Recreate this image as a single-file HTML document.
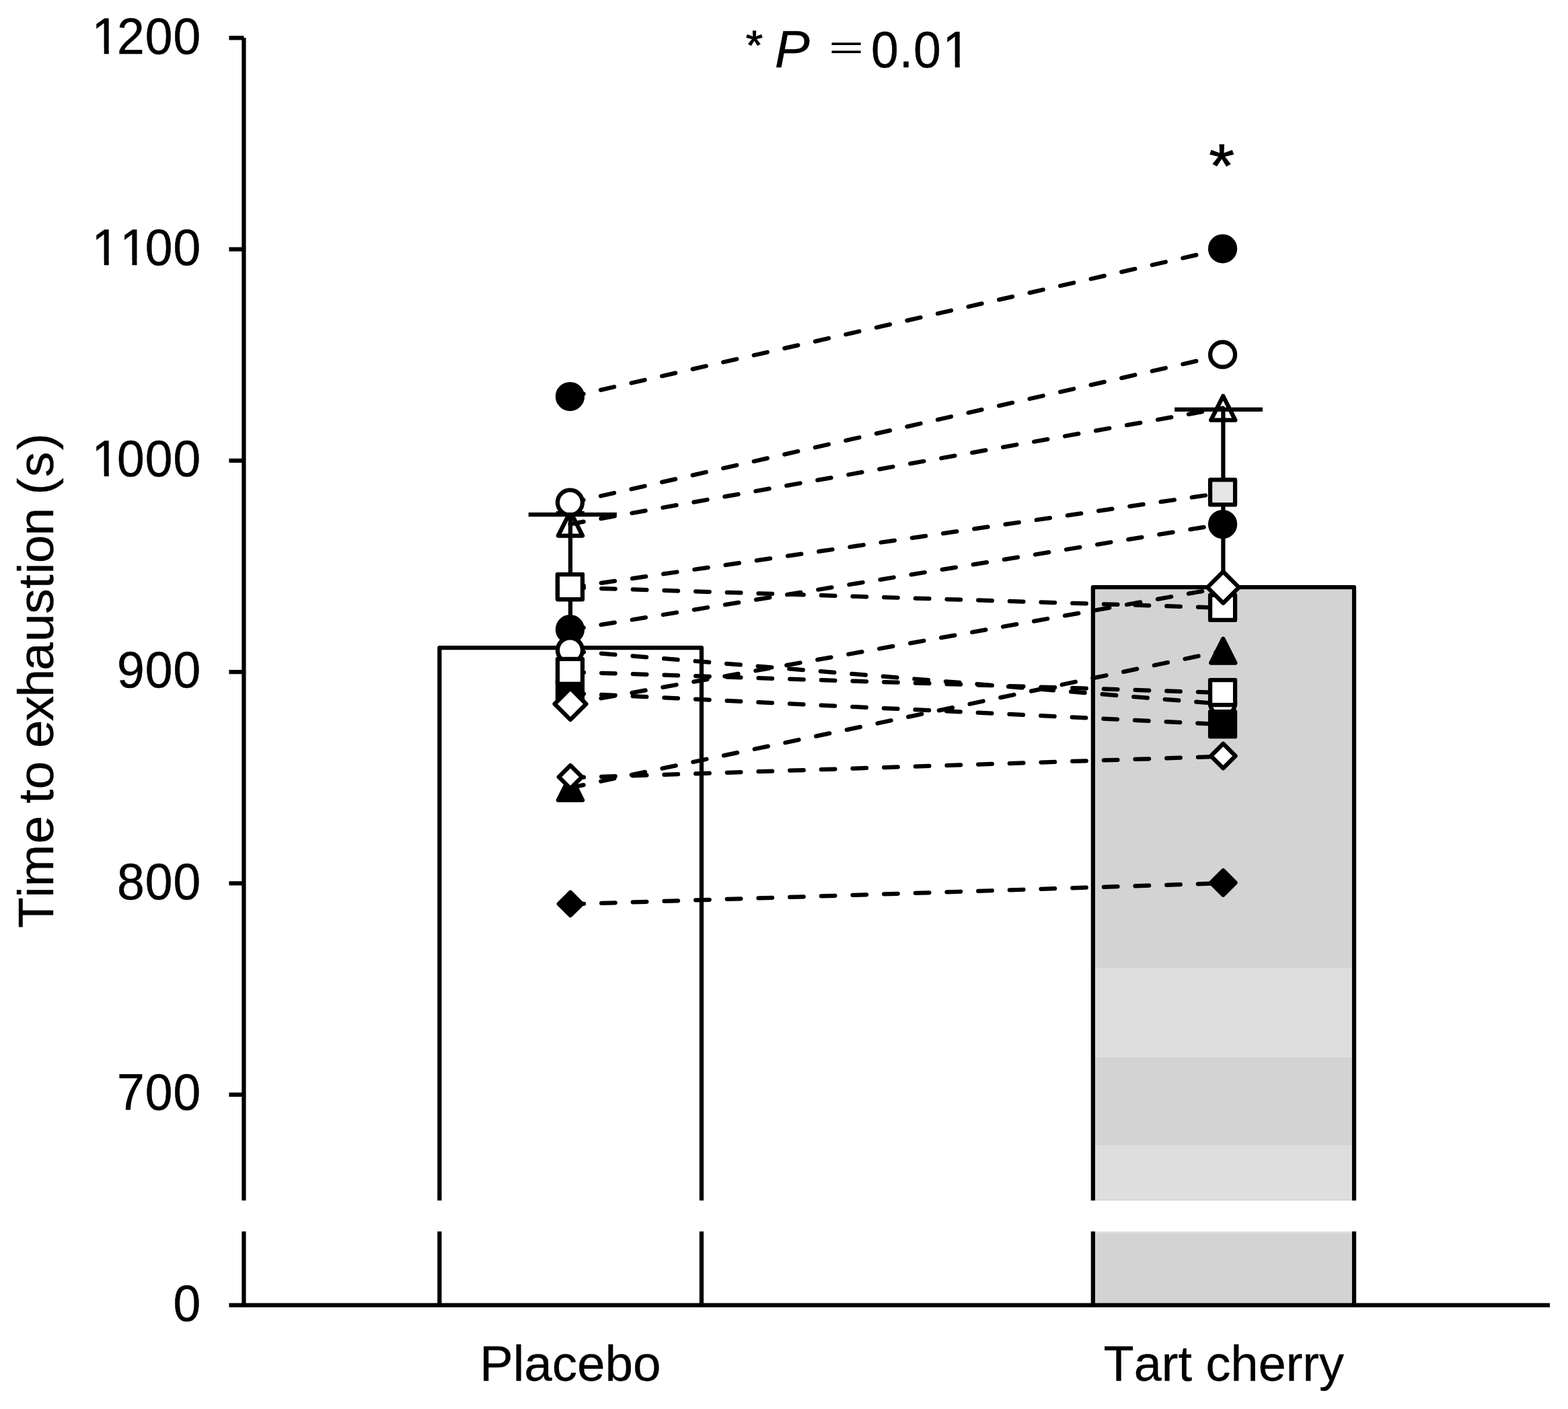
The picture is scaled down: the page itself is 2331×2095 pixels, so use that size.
<!DOCTYPE html>
<html lang="en">
<head>
<meta charset="utf-8">
<title>Time to exhaustion: Placebo vs Tart cherry</title>
<style>
html,body{margin:0;padding:0;background:#fff;}
body{width:2331px;height:2095px;overflow:hidden;}
svg{display:block;}
text{font-family:'Liberation Sans', Arial, Helvetica, sans-serif;font-size:75px;fill:#000;font-kerning:none;stroke:#000;stroke-width:0.35px;stroke-linejoin:round;}
.ln{stroke:#000;stroke-width:6.25;fill:none;stroke-linecap:butt;}
.dash{stroke:#000;stroke-width:6.25;fill:none;stroke-linecap:round;stroke-dasharray:20.6 26.1;}
.mk{stroke:#000;stroke-width:6.25;stroke-linejoin:round;}
.num text{stroke-width:0.5px;}
</style>
</head>
<body>
<svg width="2331" height="2095" viewBox="0 0 2331 2095">
<rect x="0" y="0" width="2331" height="2095" fill="#fff"/>
<g id="bars">
<rect x="1625.2" y="873.5" width="387.5" height="566.1" fill="#d3d3d3"/>
<rect x="1625.2" y="1439.6" width="387.5" height="131.9" fill="#dedede"/>
<rect x="1625.2" y="1571.5" width="387.5" height="131.4" fill="#d3d3d3"/>
<rect x="1625.2" y="1702.9" width="387.5" height="82.1" fill="#dedede"/>
<rect x="1625.2" y="1784.0" width="387.5" height="1.0" fill="#d0d0d0"/>
<rect x="1625.2" y="1831.1" width="387.5" height="3.0" fill="#dedede"/>
<rect x="1625.2" y="1834.1" width="387.5" height="106.4" fill="#d3d3d3"/>
<path fill="none" stroke="#ededed" stroke-width="0.8" d="M1628.7 876.6H2009.2V1785.0M2009.2 1831.1V1937.0"/>
<path class="ln" stroke-width="7" stroke-linejoin="round" d="M653.40 1785.00V963.20H1042.90V1785.00"/>
<path class="ln" stroke-width="7" d="M653.40 1831.10V1940.50M1042.90 1831.10V1940.50"/>
<path class="ln" stroke-width="7" stroke-linejoin="round" d="M1624.90 1785.00V873.20H2013.00V1785.00"/>
<path class="ln" stroke-width="7" d="M1624.90 1831.10V1940.50M2013.00 1831.10V1940.50"/>
</g>
<g id="axes">
<path class="ln" stroke-width="6.3" d="M362.5 56.3V1785.0M362.5 1831.1V1940.5"/>
<path class="ln" stroke-width="7.1" d="M340.5 1940.5H2304.0"/>
<path class="ln" stroke-width="7" d="M340.5 56.3H362.5M340.5 370.5H362.5M340.5 684.8H362.5M340.5 999.0H362.5M340.5 1313.3H362.5M340.5 1627.5H362.5"/>
</g>
<g id="errorbars">
<path class="ln" d="M847.9 765.0V963.5"/>
<path class="ln" d="M1818.4 608.9V873.5"/>
<path class="ln" d="M826.9 763.0H868.7"/>
</g>
<g id="pairs">
<line class="dash" x1="847.4" y1="590.16" x2="1818.0" y2="370.19"/>
<line class="dash" x1="847.4" y1="747.88" x2="1818.0" y2="527.91"/>
<line class="dash" x1="847.4" y1="779.30" x2="1818.0" y2="606.77"/>
<line class="dash" x1="847.4" y1="873.57" x2="1818.0" y2="732.77"/>
<line class="dash" x1="847.4" y1="873.57" x2="1818.0" y2="903.80"/>
<line class="dash" x1="847.4" y1="936.42" x2="1818.0" y2="779.30"/>
<line class="dash" x1="847.4" y1="967.85" x2="1818.0" y2="1046.81"/>
<line class="dash" x1="847.4" y1="999.27" x2="1818.0" y2="1030.09"/>
<line class="dash" x1="847.4" y1="1030.69" x2="1818.0" y2="1077.13"/>
<line class="dash" x1="847.4" y1="1046.41" x2="1818.0" y2="873.57"/>
<line class="dash" x1="847.4" y1="1156.39" x2="1818.0" y2="1124.67"/>
<line class="dash" x1="847.4" y1="1171.30" x2="1818.0" y2="967.85"/>
<line class="dash" x1="847.4" y1="1344.43" x2="1818.0" y2="1313.21"/>
</g>
<g id="markers">
<path class="mk" fill="none" d="M847.90 760.60L866.00 796.50L829.80 796.50Z"/>
<circle class="mk" cx="847.40" cy="589.56" r="18.5" stroke-width="6.6" fill="#000"/>
<circle class="mk" cx="847.40" cy="747.08" r="18.5" stroke-width="6.6" fill="#fff"/>
<rect class="mk" x="828.90" y="854.07" width="37.0" height="37.0" fill="#e6e6e6"/>
<rect class="mk" x="828.90" y="854.07" width="37.0" height="37.0" fill="#fff"/>
<circle class="mk" cx="847.40" cy="935.72" r="18.5" stroke-width="6.6" fill="#000"/>
<circle class="mk" cx="847.40" cy="966.85" r="18.5" stroke-width="6.6" fill="#fff"/>
<rect class="mk" x="828.90" y="1011.19" width="37.0" height="37.0" fill="#000"/>
<rect class="mk" x="828.90" y="979.77" width="37.0" height="37.0" fill="#fff"/>
<path class="mk" fill="#fff" d="M847.95 1023.31L871.35 1046.71L847.95 1070.11L824.55 1046.71Z"/>
<path class="mk" fill="#000" d="M847.90 1153.75L866.00 1189.65L829.80 1189.65Z"/>
<path class="mk" fill="#fff" d="M847.95 1137.99L865.15 1155.19L847.95 1172.39L830.75 1155.19Z"/>
<path class="mk" fill="#000" d="M847.95 1326.73L865.15 1343.93L847.95 1361.13L830.75 1343.93Z"/>
<path class="mk" fill="none" d="M1818.30 588.82L1836.40 624.72L1800.20 624.72Z"/>
<circle class="mk" cx="1817.60" cy="369.79" r="18.5" stroke-width="6.6" fill="#000"/>
<circle class="mk" cx="1817.60" cy="527.21" r="18.5" stroke-width="6.6" fill="#fff"/>
<rect class="mk" x="1799.10" y="713.47" width="37.0" height="37.0" fill="#e6e6e6"/>
<circle class="mk" cx="1817.60" cy="779.50" r="18.5" stroke-width="6.6" fill="#000"/>
<circle class="mk" cx="1817.60" cy="1045.41" r="18.5" stroke-width="6.6" fill="#fff"/>
<rect class="mk" x="1799.10" y="884.90" width="37.0" height="37.0" fill="#fff"/>
<path class="mk" fill="#fff" d="M1818.40 849.97L1841.80 873.37L1818.40 896.77L1795.00 873.37Z"/>
<path class="mk" fill="#000" d="M1818.30 949.70L1836.40 985.60L1800.20 985.60Z"/>
<rect class="mk" x="1799.10" y="1011.19" width="37.0" height="37.0" fill="#fff"/>
<rect class="mk" x="1799.10" y="1058.23" width="37.0" height="37.0" fill="#000"/>
<path class="mk" fill="#fff" d="M1818.40 1105.77L1836.60 1123.97L1818.40 1142.17L1800.20 1123.97Z"/>
<path class="mk" fill="#000" d="M1818.40 1294.31L1836.60 1312.51L1818.40 1330.71L1800.20 1312.51Z"/>
</g>
<g id="caps">
<path class="ln" d="M785.7 765.0H916.8"/>
<path class="ln" d="M1746.1 608.9H1877.0"/>
</g>
<g id="labels">
<g class="num" letter-spacing="0.98">
<text transform="translate(132.39 79.50) scale(0.9770 1.0220)" dx="4.30 -4.30 0.00 0.00">1200</text>
<text transform="translate(132.39 394.00) scale(0.9770 1.0220)" dx="4.30 0.00 -4.30 0.00">1100</text>
<text transform="translate(132.39 708.20) scale(0.9770 1.0220)" dx="4.30 -4.30 0.00 0.00">1000</text>
<text transform="translate(174.11 1022.30) scale(0.9770 1.0220)" dx="0.00 0.00 0.00">900</text>
<text transform="translate(174.11 1336.50) scale(0.9770 1.0220)" dx="0.00 0.00 0.00">800</text>
<text transform="translate(174.11 1649.80) scale(0.9770 1.0220)" dx="0.00 0.00 0.00">700</text>
<text transform="translate(257.55 1964.00) scale(0.9770 1.0220)" dx="0.00">0</text>
<text transform="translate(1295.00 99.60) scale(0.9770 1.0220)" dx="0.00 0.00 0.00 1.84">0.01</text>
</g>
<path fill="#fff" d="M139.67 72.47H154.72V82.00H139.67ZM161.79 72.47H176.26V82.00H161.79ZM139.67 386.97H154.72V396.50H139.67ZM161.79 386.97H176.26V396.50H161.79ZM181.39 386.97H196.44V396.50H181.39ZM203.51 386.97H217.98V396.50H203.51ZM139.67 701.17H154.72V710.70H139.67ZM161.79 701.17H176.26V710.70H161.79ZM1404.64 92.57H1419.69V102.10H1404.64ZM1426.76 92.57H1441.23V102.10H1426.76Z"/>
<text transform="translate(712.90 2053.10) scale(0.9948 0.9800)">Placebo</text>
<text transform="translate(1640.50 2053.30) scale(0.9864 0.9800)">Tart cherry</text>
<text transform="translate(78.80 1379.98) rotate(-90) scale(1.0000 0.9850)" dx="0.0 -0.5 -0.3 1.4 0.0 -2.9 0.4 0.0 -1.3 -1.6 -1.9 -2.0 1.0 -0.2 0.0 1.0 -0.5 -1.1 0.0 -1.6 1.4 2.4">Time to exhaustion (s)</text>
<text transform="translate(1108.75 88.00) scale(0.8670 0.8075)" style="stroke-width:1.2px;stroke-linejoin:miter">*</text>
<text transform="translate(1151.76 99.80) scale(1.0390 1.0377)" font-style="italic">P</text>
<text transform="translate(1232.62 86.99) scale(1.1670 0.6470)">=</text>
<text transform="translate(1797.30 277.70) scale(1.3000 1.2100)" style="stroke-width:0.8px;stroke-linejoin:miter">*</text>
</g>
</svg>
</body>
</html>
